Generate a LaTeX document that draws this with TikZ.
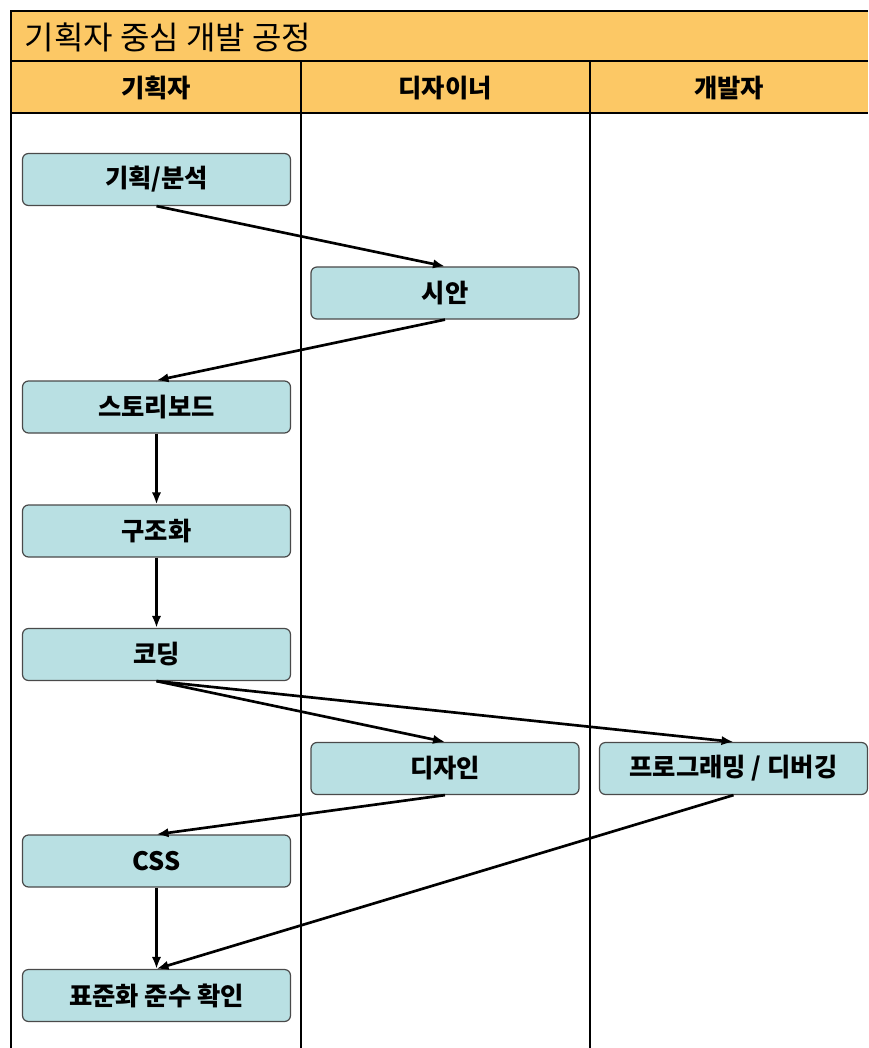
\documentclass[tikz,border=0pt]{standalone}
\usepackage{fontspec}
\setmainfont{Noto Sans CJK KR}
\usetikzlibrary{arrows.meta}
\definecolor{band}{HTML}{FCC865}
\definecolor{boxfill}{HTML}{B9E0E3}
\definecolor{boxline}{HTML}{4A4A4A}

\begin{document}
\begin{tikzpicture}[x=0.75pt, y=-0.75pt, >={Latex[length=9pt,width=7pt]},
  lane/.style={font=\fontsize{19}{21}\selectfont\bfseries},
  task/.style={draw=boxline, line width=0.9pt, rounded corners=4.5pt, fill=boxfill, minimum width=201pt, minimum height=39pt, inner sep=0pt, font=\fontsize{19}{21}\selectfont\bfseries},
  flow/.style={->, line width=2pt}]
  \useasboundingbox (0,0) rectangle (868,1048);
  \fill[white] (0,0) rectangle (868,1048);

  % swimlane frame
  \fill[band] (11,11) rectangle (868,113);
  \draw[line width=2.2pt] (868,11) -- (11,11) -- (11,1048);
  \draw[line width=2.2pt] (11,61) -- (868,61);
  \draw[line width=2.2pt] (11,113) -- (868,113);
  \draw[line width=2.2pt] (301,61) -- (301,1048);
  \draw[line width=2.2pt] (590,61) -- (590,1048);

  \node[anchor=west, font=\fontsize{24}{26}\selectfont] (title) at (20,37) {기획자 중심 개발 공정};
  \node[lane] (planner) at (156,88) {기획자};
  \node[lane] (designer) at (445,88) {디자이너};
  \node[lane] (developer) at (729,88) {개발자};

  % tasks
  \node[task] (analysis) at (156.5,179.5) {기획/분석};
  \node[task] (draft) at (445,293) {시안};
  \node[task] (story) at (156.5,407) {스토리보드};
  \node[task] (structure) at (156.5,531) {구조화};
  \node[task] (coding) at (156.5,654.5) {코딩};
  \node[task] (design) at (445,768.5) {디자인};
  \node[task] (program) at (733.5,768.5) {프로그래밍 / 디버깅};
  \node[task] (css) at (156.5,861) {CSS};
  \node[task] (check) at (156.5,995.5) {표준화 준수 확인};

  % flow
  \draw[flow] (analysis.south) -- (draft.north);
  \draw[flow] (draft.south) -- (story.north);
  \draw[flow] (story) -- (structure);
  \draw[flow] (structure) -- (coding);
  \draw[flow] (coding.south) -- (design.north);
  \draw[flow] (coding.south) -- (program.north);
  \draw[flow] (design.south) -- (css.north);
  \draw[flow] (css) -- (check);
  \draw[flow] (program.south) -- (check.north);
\end{tikzpicture}
\end{document}
